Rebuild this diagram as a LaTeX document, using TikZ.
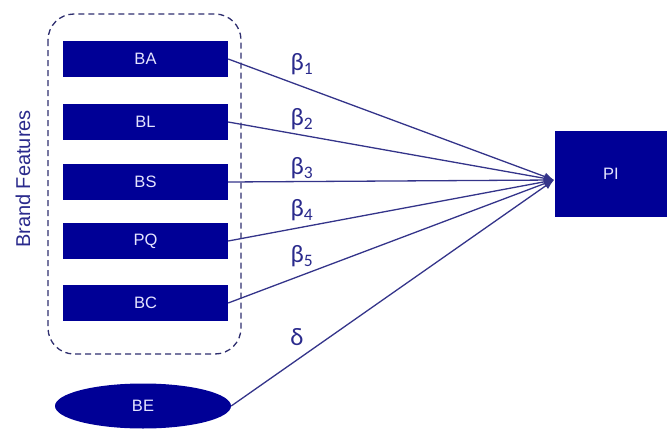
\documentclass[tikz,border=0pt]{standalone}
\usepackage{fontspec}
\setmainfont{Liberation Sans}
\newfontfamily\greekfont{Carlito}
\usetikzlibrary{arrows.meta,shapes.geometric}
\definecolor{boxblue}{HTML}{000096}
\definecolor{linecol}{HTML}{34348A}
\definecolor{dashcol}{HTML}{2E2E6E}
\definecolor{labcol}{HTML}{2A2A8C}
\definecolor{txtcol}{HTML}{E4E4FF}
\tikzset{
  feat/.style={draw=none, fill=boxblue, minimum width=165pt, minimum height=36pt, inner sep=0pt, text=txtcol, font=\fontsize{16.5}{16.5}\selectfont},
  conn/.style={draw=linecol, line width=1.3pt, -{Latex[length=10pt,width=8pt]}},
  coef/.style={text=labcol, font=\greekfont\fontsize{25}{25}\selectfont, inner sep=0pt}
}
\begin{document}
\begin{tikzpicture}[x=1pt,y=-1pt]
\useasboundingbox (0,0) rectangle (667,431);
\draw[dashcol, line width=1.3pt, dash pattern=on 6pt off 4pt, rounded corners=26pt] (48,14) rectangle (241,354);
\node[feat] (BA) at (145.5,59) {BA};
\node[feat] (BL) at (145.5,122) {BL};
\node[feat] (BS) at (145.5,182) {BS};
\node[feat] (PQ) at (145.5,241) {PQ};
\node[feat] (BC) at (145.5,303) {BC};
\node[ellipse, fill=boxblue, minimum width=176pt, minimum height=45pt, inner sep=0pt, text=txtcol, font=\fontsize{16.5}{16.5}\selectfont] (BE) at (143,406) {BE};
\node[fill=boxblue, minimum width=112pt, minimum height=86pt, inner sep=0pt, text=txtcol, font=\fontsize{16.5}{16.5}\selectfont] (PI) at (611,174) {PI};
\coordinate (tip) at (554,180);
\node[rotate=90, text=labcol, font=\fontsize{20}{20}\selectfont] (BF) at (23,179) {Brand Features};
\draw[conn] (BA.east) -- (tip);
\draw[conn] (BL.east) -- (tip);
\draw[conn] (BS.east) -- (tip);
\draw[conn] (PQ.east) -- (tip);
\draw[conn] (BC.east) -- (tip);
\draw[conn] (BE.east) -- (tip);
\node[coef] (b1) at (302,64) {β\textsubscript{1}};
\node[coef] (b2) at (302,119) {β\textsubscript{2}};
\node[coef] (b3) at (302,168) {β\textsubscript{3}};
\node[coef] (b4) at (302,210) {β\textsubscript{4}};
\node[coef] (b5) at (302,256) {β\textsubscript{5}};
\node[coef] (d) at (297,337) {δ};
\end{tikzpicture}
\end{document}
